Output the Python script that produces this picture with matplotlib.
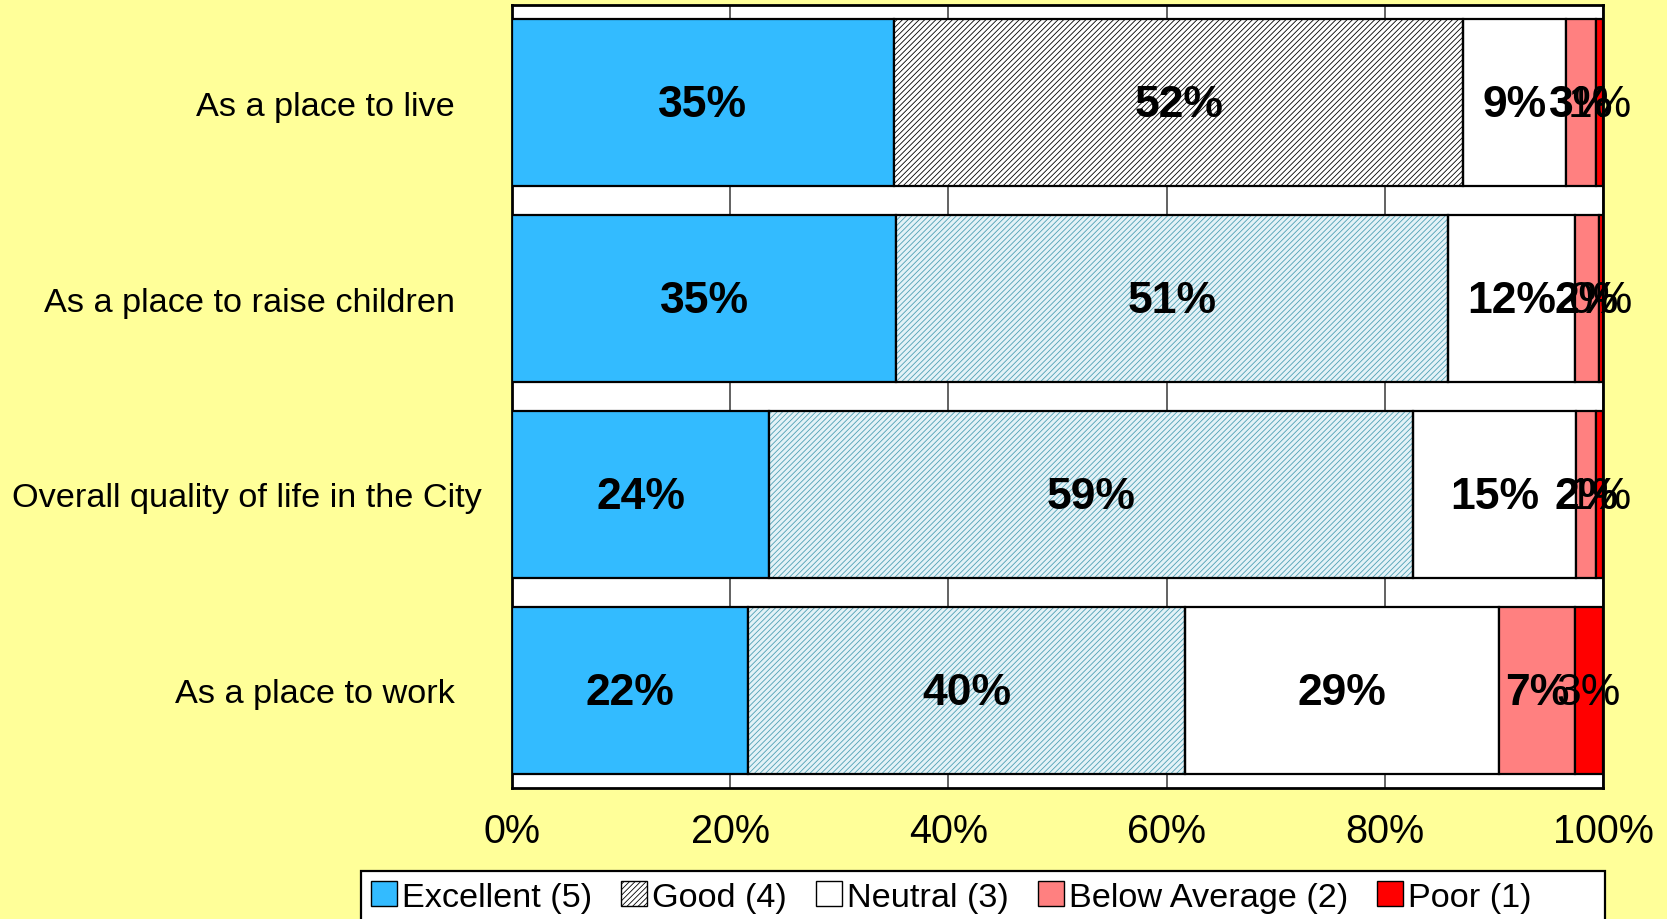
import matplotlib
matplotlib.use("Agg")
import matplotlib.pyplot as plt
import matplotlib.transforms as mtransforms
from matplotlib.patches import Patch, Rectangle
import numpy as np

plt.rcParams['font.family'] = ['Liberation Sans', 'DejaVu Sans']
plt.rcParams['hatch.linewidth'] = 0.6

# ---- data ----
categories = ["As a place to live", "As a place to raise children",
              "Overall quality of life in the City", "As a place to work"]
series_names = ["Excellent (5)", "Good (4)", "Neutral (3)", "Below Average (2)", "Poor (1)"]
excellent = [35.0, 35.2, 23.6, 21.6]
good = [52.2, 50.6, 59.0, 40.1]
neutral = [9.4, 11.6, 14.9, 28.8]
below_average = [2.8, 2.2, 1.9, 6.9]
poor = [0.6, 0.4, 0.6, 2.6]
x_ticks = [0, 20, 40, 60, 80, 100]
x_tick_labels = ["0%", "20%", "40%", "60%", "80%", "100%"]

# ---- styles ----
bg = "#FFFF99"
colors = ["#33BBFF", "white", "white", "#FF8080", "#FF0000"]
good_face = ["white", "#E4F2F7", "#E4F2F7", "#E4F2F7"]
good_hatch_color = ["black", "#4FA0B4", "#4FA0B4", "#4FA0B4"]
hatch = "//////"
bar_h = 0.853

fig = plt.figure(figsize=(16.67, 9.2), dpi=100, facecolor=bg)
ax = fig.add_axes([512/1667, 1-789/920, 1091/1667, 783/920])
ax.set_facecolor("white")

label_shift = mtransforms.ScaledTranslation(0, -2/100, fig.dpi_scale_trans)

data = [excellent, good, neutral, below_average, poor]
y = np.arange(len(categories))
left = np.zeros(len(categories))
for si, vals in enumerate(data):
    vals = np.array(vals)
    if si == 1:
        for i in range(len(categories)):
            ax.barh(y[i], vals[i], left=left[i], height=bar_h, facecolor=good_face[i],
                    hatch=hatch, edgecolor=good_hatch_color[i], linewidth=0, zorder=3)
        ax.barh(y, vals, left=left, height=bar_h, fill=False,
                edgecolor="black", linewidth=1.6, zorder=4)
    else:
        ax.barh(y, vals, left=left, height=bar_h, color=colors[si],
                edgecolor="black", linewidth=1.6, zorder=3)
    for i in range(len(categories)):
        ax.text(left[i] + vals[i] / 2, y[i], "{:.0f}%".format(vals[i]),
                ha="center", va="center", fontsize=32,
                fontweight="normal" if si == 4 else "bold", color="black", zorder=5,
                transform=ax.transData + label_shift)
    left = left + vals

ax.set_xlim(0, 100)
ax.set_ylim(len(categories) - 0.5, -0.5)
ax.set_xticks(x_ticks)
ax.set_xticklabels(x_tick_labels, fontsize=28.5)
ax.set_yticks(y)
ax.set_yticklabels(categories, fontsize=24.7)
ax.tick_params(axis="x", length=0, pad=17)
ax.tick_params(axis="y", length=0, pad=41)
for lbl in ax.get_yticklabels():
    if lbl.get_text().startswith("Overall"):
        lbl.set_transform(lbl.get_transform() +
                          mtransforms.ScaledTranslation(27/100, 0, fig.dpi_scale_trans))

ax.grid(axis="x", color="#555555", linewidth=1.3, zorder=0)
ax.set_axisbelow(True)
for s in ax.spines.values():
    s.set_linewidth(2)
    s.set_color("black")

# legend box (wider than its content, as in the reference)
fig.patches.append(Rectangle((361/1667, -0.05), (1605-361)/1667, 0.05 + 1-872/920,
                             transform=fig.transFigure, facecolor="white",
                             edgecolor="black", linewidth=1.6, zorder=0))

handles = [
    Patch(facecolor=colors[0], edgecolor="black"),
    Patch(facecolor="white", edgecolor="black", hatch=hatch),
    Patch(facecolor="white", edgecolor="black"),
    Patch(facecolor=colors[3], edgecolor="black"),
    Patch(facecolor=colors[4], edgecolor="black"),
]
leg = fig.legend(handles, series_names, loc="upper left",
                 bbox_to_anchor=(361/1667, 1-872/920), ncol=5, fontsize=24.7,
                 frameon=False,
                 handlelength=0.75, handleheight=0.75, handletextpad=0.15,
                 columnspacing=0.85, borderpad=0.3, borderaxespad=0)

fig.savefig("out.png", dpi=100, facecolor=bg)
